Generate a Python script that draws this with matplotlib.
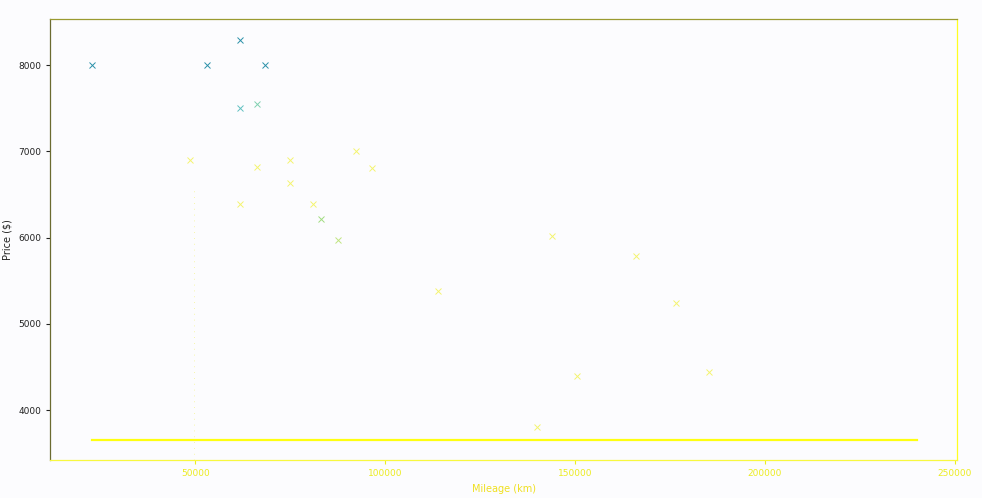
import matplotlib
matplotlib.use("Agg")
import matplotlib.pyplot as plt

# mileage (km) and price ($)
mileage = [22900, 53200, 61800, 68400, 61800, 66300, 48700, 66300, 75000, 75000,
           61800, 81000, 83200, 87600, 92400, 96600, 113900, 143900, 140000,
           150500, 166000, 176600, 185300]
price = [8000, 8000, 8290, 8000, 7500, 7550, 6900, 6820, 6900, 6630,
         6390, 6390, 6210, 5970, 7000, 6810, 5380, 6020, 3800,
         4400, 5790, 5240, 4440]
point_colors = ['#2a90a8'] * 4 + ['#5fc0c0', '#7fd0b0'] + ['#f4f470'] * 6 + \
               ['#a0dc80', '#c0e480'] + ['#f4f470'] * 9

# fitted line at this frame
line_x = [22900, 240000]
line_y = [3650, 3650]

fig = plt.figure(figsize=(9.82, 4.98), dpi=100, facecolor='#fcfcfe')
ax = fig.add_axes([0.051, 0.076, 0.924, 0.886])
ax.set_facecolor('#fcfcfe')

for x, y, c in zip(mileage, price, point_colors):
    ax.plot(x, y, marker='x', color=c, markersize=4.5, markeredgewidth=0.7, linestyle='none')

ax.plot(line_x, line_y, color='#ffff10', linewidth=1.6)
# faint guide left in the frame
ax.plot([49800, 49800], [3420, 6570], color='#f4f490', linewidth=0.6, linestyle=(0, (1, 6)))

ax.set_xlim(11800, 250700)
ax.set_ylim(3420, 8535)
ax.set_xticks([50000, 100000, 150000, 200000, 250000])
ax.set_yticks([4000, 5000, 6000, 7000, 8000])

ax.tick_params(axis='x', labelsize=6.5, colors='#ecec20', length=3)
ax.tick_params(axis='y', labelsize=6.5, colors='#222222', length=3)
ax.set_xlabel("Mileage (km)", fontsize=7, color='#f0e020', labelpad=4)
ax.set_ylabel("Price ($)", fontsize=7, color='#222222', labelpad=4)

ax.spines['left'].set_color('#6b6b30')
ax.spines['top'].set_color('#9a9a30')
ax.spines['bottom'].set_color('#f8f840')
ax.spines['right'].set_color('#ffff20')
for s in ax.spines.values():
    s.set_linewidth(0.9)

fig.savefig("out.png", dpi=100, facecolor=fig.get_facecolor())
